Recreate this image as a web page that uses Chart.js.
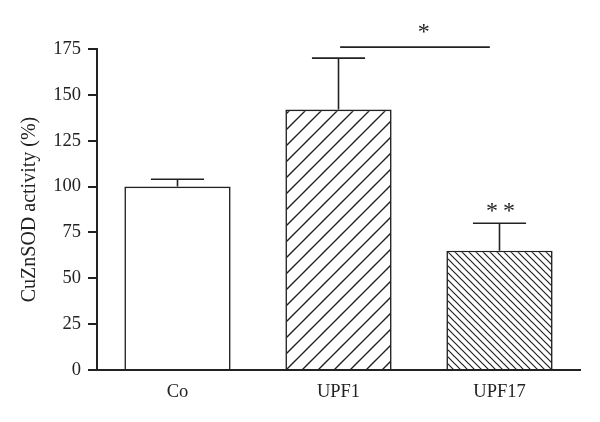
<!DOCTYPE html>
<html><head><meta charset="utf-8">
<script src="https://cdn.jsdelivr.net/npm/chart.js@4"></script>
<style>html,body{margin:0;padding:0;background:#fff}#wrap{width:600px;height:422px;position:relative}</style>
</head><body><div id="wrap"><canvas id="c"></canvas></div>
<script>
// ---- data ----
const categories = ['Co', 'UPF1', 'UPF17'];
const means = [100, 142, 65];
const errorsUp = [4, 28, 15];
const yTicks = [0, 25, 50, 75, 100, 125, 150, 175];
const yTitle = 'CuZnSOD activity (%)';
const hatchKinds = ['none', 'forward', 'backward'];
const barMarks = ['', '', '**'];
const sigFrom = [1.01];
const sigTo = [1.94];
const sigLevel = [176];
const sigLabel = ['*'];
const sigLabelPos = [1.53];

// ---- styles ----
const INK = '#222';
const SERIF = "'Liberation Serif', 'Times New Roman', serif";

function makeHatch(kind) {
  if (kind === 'none') return '#ffffff';
  const s = kind === 'forward' ? 16 : 7;
  const c = document.createElement('canvas');
  c.width = s; c.height = s;
  const g = c.getContext('2d');
  g.fillStyle = '#fff'; g.fillRect(0, 0, s, s);
  g.strokeStyle = INK; g.lineWidth = kind === 'forward' ? 1.4 : 1.2;
  g.beginPath();
  if (kind === 'forward') {
    g.moveTo(-1, s + 1); g.lineTo(s + 1, -1);
    g.moveTo(-2, 2); g.lineTo(2, -2);
    g.moveTo(s - 2, s + 2); g.lineTo(s + 2, s - 2);
  } else {
    g.moveTo(-1, -1); g.lineTo(s + 1, s + 1);
    g.moveTo(s - 2, -2); g.lineTo(s + 2, 2);
    g.moveTo(-2, s - 2); g.lineTo(2, s + 2);
  }
  g.stroke();
  return g.createPattern(c, 'repeat');
}

const overlay = {
  id: 'overlay',
  afterDatasetsDraw(chart) {
    const ctx = chart.ctx;
    const x = chart.scales.x, y = chart.scales.y;
    const meta = chart.getDatasetMeta(0);
    ctx.save();
    ctx.strokeStyle = INK;
    ctx.lineWidth = 1.6;
    meta.data.forEach((bar, i) => {
      const cx = bar.x;
      const yb = y.getPixelForValue(means[i]);
      const yt = y.getPixelForValue(means[i] + errorsUp[i]);
      const half = bar.width / 4;
      ctx.beginPath();
      ctx.moveTo(cx, yb); ctx.lineTo(cx, yt);
      ctx.moveTo(cx - half, yt); ctx.lineTo(cx + half, yt);
      ctx.stroke();
      if (barMarks[i]) {
        ctx.fillStyle = INK;
        ctx.font = '24px ' + SERIF;
        ctx.textAlign = 'center';
        ctx.textBaseline = 'alphabetic';
        ctx.fillText(barMarks[i].split('').join('\u2009'), cx + 1, yt - 5);
      }
    });
    sigFrom.forEach((f, k) => {
      const yy = y.getPixelForValue(sigLevel[k]);
      ctx.beginPath();
      ctx.moveTo(x.getPixelForValue(f), yy);
      ctx.lineTo(x.getPixelForValue(sigTo[k]), yy);
      ctx.stroke();
      ctx.fillStyle = INK;
      ctx.font = '24px ' + SERIF;
      ctx.textAlign = 'center';
      ctx.textBaseline = 'alphabetic';
      ctx.fillText(sigLabel[k], x.getPixelForValue(sigLabelPos[k]), yy - 8);
    });
    ctx.restore();
  }
};

new Chart(document.getElementById('c'), {
  type: 'bar',
  data: {
    labels: categories,
    datasets: [{
      data: means,
      backgroundColor: hatchKinds.map(makeHatch),
      borderColor: INK,
      borderWidth: 1.6,
      borderSkipped: 'start',
      barPercentage: 0.66,
      categoryPercentage: 1.0
    }]
  },
  options: {
    responsive: true,
    maintainAspectRatio: false,
    animation: false,
    events: [],
    layout: { padding: { left: 0, right: 20, top: 49, bottom: 0 } },
    plugins: { legend: { display: false }, tooltip: { enabled: false } },
    scales: {
      x: {
        grid: { display: true, drawOnChartArea: false, drawTicks: false },
        border: { display: true, color: INK, width: 2 },
        ticks: { color: INK, font: { family: SERIF, size: 18.5 }, padding: 11 },
        afterFit(s) { s.height = 52; }
      },
      y: {
        min: 0, max: 175,
        afterBuildTicks(s) { s.ticks = yTicks.map(v => ({ value: v })); },
        grid: { display: true, drawOnChartArea: false, drawTicks: true, tickLength: 9, color: INK, lineWidth: 2 },
        border: { display: true, color: INK, width: 2 },
        ticks: { color: INK, font: { family: SERIF, size: 18.5 }, padding: 7 },
        title: { display: true, text: yTitle, color: INK, font: { family: SERIF, size: 20 }, padding: { top: 18, bottom: 0 } },
        afterFit(s) { s.width = 97; }
      }
    }
  },
  plugins: [overlay]
});
</script>
</body></html>
